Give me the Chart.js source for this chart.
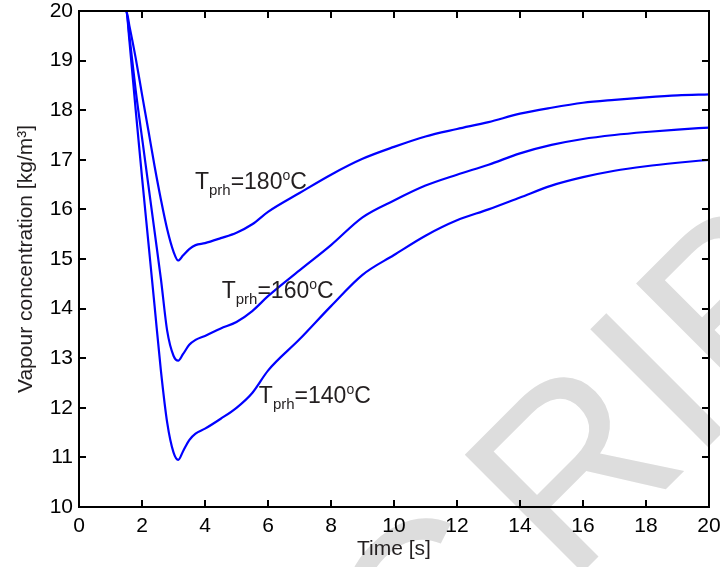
<!DOCTYPE html>
<html>
<head>
<meta charset="utf-8">
<script src="https://cdn.jsdelivr.net/npm/chart.js@4.4.1/dist/chart.umd.min.js"></script>
<style>
  html, body { margin: 0; padding: 0; background: #fff; }
  #wrap { width: 720px; height: 567px; position: relative; }
</style>
</head>
<body>
<div id="wrap"><canvas id="vapourChart"></canvas></div>
<script>
// ===== data =====
const timeS = [0, 1.5, 1.6, 1.8, 2.0, 2.2, 2.4, 2.6, 2.8, 3.0,
  3.15, 3.3, 3.5, 3.7, 4.0, 4.5, 5.0, 5.5, 6.0, 7.0,
  8, 9, 10, 11, 12, 13, 14, 15, 16, 17, 18, 19, 20];

const conc180 = [20, 20, 19.7, 19.05, 18.32, 17.6, 16.87, 16.2, 15.6, 15.15,
  14.97, 15.07, 15.2, 15.28, 15.32, 15.42, 15.53, 15.7, 15.95, 16.33,
  16.7, 17.02, 17.26, 17.47, 17.62, 17.76, 17.93, 18.05, 18.15, 18.21, 18.26, 18.3, 18.32];

const conc160 = [20, 20, 19.5, 18.4, 17.45, 16.5, 15.55, 14.6, 13.55, 13.05,
  12.95, 13.08, 13.27, 13.37, 13.45, 13.6, 13.73, 13.95, 14.25, 14.77,
  15.28, 15.84, 16.18, 16.48, 16.7, 16.9, 17.13, 17.3, 17.42, 17.5, 17.56, 17.61, 17.65];

const conc140 = [20, 20, 19.4, 18.0, 16.65, 15.35, 14.05, 12.75, 11.7, 11.1,
  10.95, 11.12, 11.35, 11.48, 11.58, 11.78, 12.0, 12.3, 12.75, 13.38,
  14.05, 14.68, 15.08, 15.47, 15.78, 16.0, 16.24, 16.48, 16.65, 16.78, 16.87, 16.94, 17.0];

const xTicks = [0, 2, 4, 6, 8, 10, 12, 14, 16, 18, 20];
const yTicks = [10, 11, 12, 13, 14, 15, 16, 17, 18, 19, 20];

// curve labels: T_prh = ...°C
const labelTemps = ['180', '160', '140'];
const labelTime = [3.68, 4.53, 5.71];
const labelConc = [16.41, 14.21, 12.1];

const FONT = '"Liberation Sans", Arial, Helvetica, sans-serif';
const TXT = '#231f20';

const toPts = ys => timeS.map((t, i) => ({ x: t, y: ys[i] }));

// ===== plugins =====
// grey diagonal stamp behind the plot
const watermark = {
  id: 'watermark',
  beforeDraw(chart) {
    const ctx = chart.ctx;
    ctx.save();
    ctx.translate(445, 710);
    ctx.rotate(-Math.PI / 4);
    ctx.font = '242px ' + FONT;
    ctx.fillStyle = '#dddddd';
    ctx.textBaseline = 'alphabetic';
    const cw = ctx.measureText('C').width;
    ctx.fillText('C', -28, 0);
    ctx.fillText('RIB', cw, 0);
    ctx.restore();
  }
};

const frameAndTicks = {
  id: 'frameAndTicks',
  afterDatasetsDraw(chart) {
    const { ctx, chartArea: a, scales: { x, y } } = chart;
    const len = 7;
    ctx.save();
    ctx.strokeStyle = '#000';
    ctx.lineWidth = 2;
    ctx.beginPath();
    xTicks.forEach(v => {
      const px = Math.round(x.getPixelForValue(v));
      ctx.moveTo(px, a.bottom); ctx.lineTo(px, a.bottom - len);
      ctx.moveTo(px, a.top); ctx.lineTo(px, a.top + len);
    });
    yTicks.forEach(v => {
      const py = Math.round(y.getPixelForValue(v));
      ctx.moveTo(a.left, py); ctx.lineTo(a.left + len, py);
      ctx.moveTo(a.right, py); ctx.lineTo(a.right - len, py);
    });
    ctx.stroke();
    ctx.strokeRect(a.left, a.top, a.right - a.left, a.bottom - a.top);
    ctx.restore();
  }
};

const curveLabels = {
  id: 'curveLabels',
  afterDatasetsDraw(chart) {
    const { ctx, scales: { x, y } } = chart;
    ctx.save();
    ctx.fillStyle = TXT;
    ctx.textBaseline = 'alphabetic';
    ctx.textAlign = 'left';
    labelTemps.forEach((temp, i) => {
      let px = x.getPixelForValue(labelTime[i]);
      const py = y.getPixelForValue(labelConc[i]);
      const parts = [
        { t: 'T', size: 23, dy: 0 },
        { t: 'prh', size: 15, dy: 6 },
        { t: '=' + temp, size: 23, dy: 0 },
        { t: 'o', size: 14, dy: -9 },
        { t: 'C', size: 23, dy: 0 }
      ];
      parts.forEach(p => {
        ctx.font = p.size + 'px ' + FONT;
        ctx.fillText(p.t, px, py + p.dy);
        px += ctx.measureText(p.t).width;
      });
    });
    ctx.restore();
  }
};

// ===== chart =====
const lineStyle = {
  borderColor: '#0000ff',
  borderWidth: 2.2,
  pointRadius: 0,
  fill: false,
  cubicInterpolationMode: 'monotone'
};

new Chart(document.getElementById('vapourChart'), {
  type: 'line',
  data: {
    datasets: [
      { label: 'Tprh=180°C', data: toPts(conc180), ...lineStyle },
      { label: 'Tprh=160°C', data: toPts(conc160), ...lineStyle },
      { label: 'Tprh=140°C', data: toPts(conc140), ...lineStyle }
    ]
  },
  options: {
    responsive: true,
    maintainAspectRatio: false,
    animation: false,
    layout: { padding: { top: 11, right: 11, left: 0, bottom: 0 } },
    plugins: {
      legend: { display: false },
      tooltip: { enabled: false }
    },
    scales: {
      x: {
        type: 'linear',
        min: 0, max: 20,
        grid: { display: false, drawTicks: false },
        border: { display: false },
        afterBuildTicks: s => { s.ticks = xTicks.map(v => ({ value: v })); },
        afterFit: s => { s.height = 60; s.paddingLeft = 0; s.paddingRight = 0; },
        ticks: { color: '#000', font: { family: FONT, size: 21 }, padding: 7, maxRotation: 0 },
        title: { display: true, text: 'Time [s]', color: TXT, font: { family: FONT, size: 21 }, padding: { top: 0, bottom: 5 } }
      },
      y: {
        type: 'linear',
        min: 10, max: 20,
        grid: { display: false, drawTicks: false },
        border: { display: false },
        afterBuildTicks: s => { s.ticks = yTicks.map(v => ({ value: v })); },
        afterFit: s => { s.width = 79; s.paddingTop = 0; s.paddingBottom = 0; },
        ticks: { color: '#000', font: { family: FONT, size: 21 }, padding: 6 },
        title: { display: true, text: 'Vapour concentration [kg/m³]', color: TXT, font: { family: FONT, size: 21 }, padding: { top: 14, bottom: 0 } }
      }
    }
  },
  plugins: [watermark, frameAndTicks, curveLabels]
});
</script>
</body>
</html>
